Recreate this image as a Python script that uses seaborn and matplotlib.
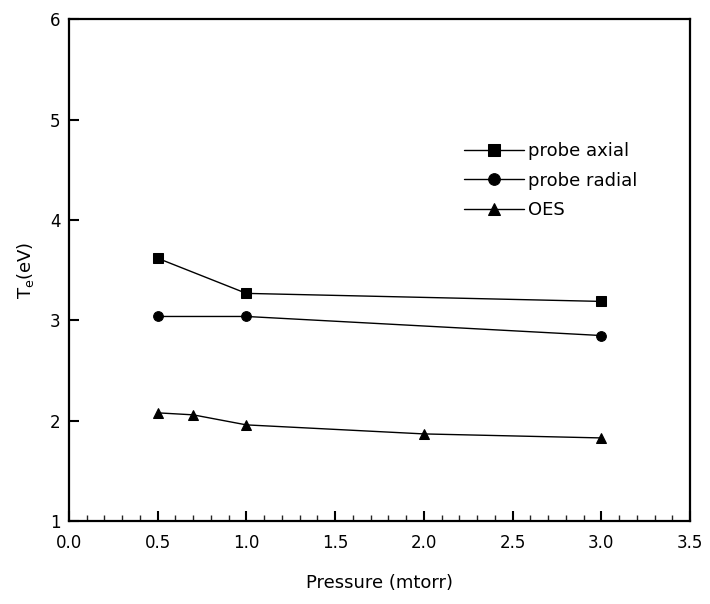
import matplotlib
matplotlib.use("Agg")
import matplotlib.pyplot as plt
import seaborn as sns
import pandas as pd
from matplotlib.ticker import MultipleLocator

# Data
axial_x = [0.5, 1.0, 3.0]
axial_y = [3.62, 3.27, 3.19]
radial_x = [0.5, 1.0, 3.0]
radial_y = [3.04, 3.04, 2.85]
oes_x = [0.5, 0.7, 1.0, 2.0, 3.0]
oes_y = [2.08, 2.06, 1.96, 1.87, 1.83]
series_names = ["probe axial", "probe radial", "OES"]

df = pd.concat([
    pd.DataFrame({"Pressure": axial_x, "Te": axial_y, "series": series_names[0]}),
    pd.DataFrame({"Pressure": radial_x, "Te": radial_y, "series": series_names[1]}),
    pd.DataFrame({"Pressure": oes_x, "Te": oes_y, "series": series_names[2]}),
], ignore_index=True)

sns.set_theme(style="ticks")
plt.rcParams["font.family"] = ["DejaVu Sans"]
plt.rcParams["text.color"] = "black"
plt.rcParams["axes.labelcolor"] = "black"

fig = plt.figure(figsize=(7.1, 6.04), dpi=100)
ax = fig.add_axes([0.097, 0.137, 0.875, 0.831])

sns.lineplot(
    data=df, x="Pressure", y="Te", hue="series", style="series",
    hue_order=series_names, style_order=series_names,
    palette={n: "black" for n in series_names},
    markers={"probe axial": "s", "probe radial": "o", "OES": "^"},
    dashes=False, markersize=7, linewidth=1.0, markeredgecolor="black",
    ax=ax, sort=False,
)

ax.set_xlim(0, 3.5)
ax.set_ylim(1, 6)
ax.xaxis.set_major_locator(MultipleLocator(0.5))
ax.xaxis.set_minor_locator(MultipleLocator(0.1))
ax.yaxis.set_major_locator(MultipleLocator(1))
ax.yaxis.set_major_formatter(matplotlib.ticker.FormatStrFormatter("%d"))
ax.xaxis.set_major_formatter(matplotlib.ticker.FormatStrFormatter("%.1f"))
ax.tick_params(axis="both", which="major", direction="in", length=7, width=1.5,
               labelsize=12, colors="black")
ax.tick_params(axis="x", which="major", pad=9)
ax.tick_params(axis="y", which="major", pad=6)
ax.tick_params(axis="x", which="minor", direction="in", length=4, width=1.0)
for sp in ax.spines.values():
    sp.set_linewidth(1.6)
    sp.set_color("black")

ax.set_xlabel("Pressure (mtorr)", fontsize=13, labelpad=16)
ax.set_ylabel(r"T$_{\mathrm{e}}$(eV)", fontsize=13, labelpad=10)

leg = ax.legend(loc="upper left", bbox_to_anchor=(0.625, 0.77), frameon=False,
                fontsize=13, handlelength=3.3, handletextpad=0.2,
                labelspacing=0.65, borderaxespad=0, markerscale=1.2)
for t in leg.get_texts():
    t.set_color("black")

fig.savefig("out.png", dpi=100)
